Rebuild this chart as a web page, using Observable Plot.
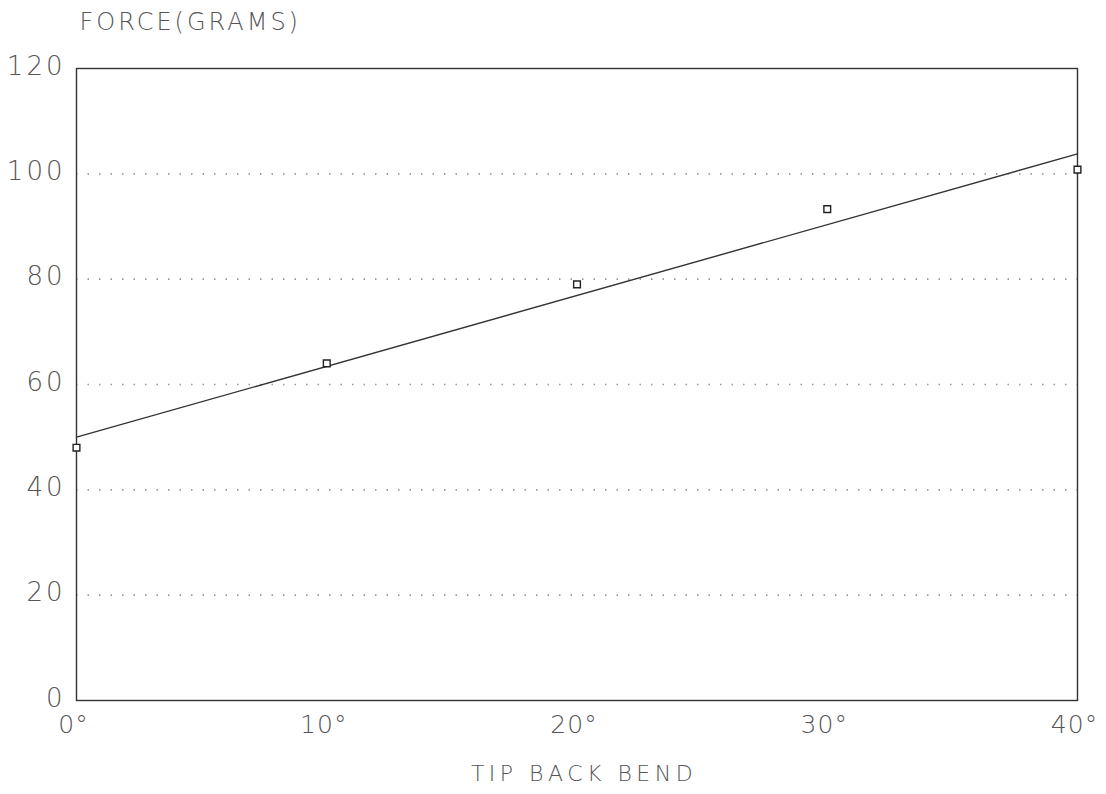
<!DOCTYPE html>
<html>
<head>
<meta charset="utf-8">
<script src="https://cdn.jsdelivr.net/npm/d3@7"></script>
<script src="https://cdn.jsdelivr.net/npm/@observablehq/plot@0.6"></script>
<style>
  html, body { margin: 0; padding: 0; background: #fff; }
  #chart svg { display: block; }
</style>
</head>
<body>
<div id="chart"></div>
<script>
// Data
const bendDeg = [0, 10, 20, 30, 40];
const forceGrams = [48, 64, 79, 93.3, 100.8];
const fitX = [0, 40];
const fitY = [50, 103.8];
const gridValues = [20, 40, 60, 80, 100];
const yTicks = [0, 20, 40, 60, 80, 100, 120];
const xTicks = [0, 10, 20, 30, 40];
const yTitle = "FORCE(GRAMS)";
const xTitle = "TIP BACK BEND";

const points = bendDeg.map((x, i) => ({x, y: forceGrams[i]}));
const fit = fitX.map((x, i) => ({x, y: fitY[i]}));

const font = "'DejaVu Sans', sans-serif";
const ink = "#555";

const plot = Plot.plot({
  width: 1106,
  height: 794,
  marginLeft: 76,
  marginRight: 29,
  marginTop: 68,
  marginBottom: 94,
  style: {fontFamily: font, background: "#fff", color: ink},
  x: {domain: [0, 40], label: null, axis: null},
  y: {domain: [0, 120], label: null, axis: null},
  marks: [
    Plot.ruleY(gridValues, {stroke: "#999", strokeDasharray: "1.5,10", strokeWidth: 1.6}),
    Plot.frame({stroke: "#333", strokeWidth: 1.4}),
    Plot.axisX({ticks: xTicks, tickFormat: d => d + "°", tickSize: 0, tickPadding: 15, fontSize: 25, fill: ink, fontWeight: 200, label: null, dx: -3}),
    Plot.axisY({ticks: yTicks, tickSize: 0, tickPadding: 11, fontSize: 26, fill: ink, fontWeight: 200, label: null, dy: -2}),
    Plot.line(fit, {x: "x", y: "y", stroke: "#333", strokeWidth: 1.4}),
    Plot.dot(points, {x: "x", y: "y", symbol: "square", r: 3.8, stroke: "#222", fill: "#fff", strokeWidth: 1.4}),
    Plot.text([yTitle], {frameAnchor: "top-left", dx: 3, dy: -56, text: d => d, fontSize: 24, fill: ink, fontWeight: 200, textAnchor: "start", lineAnchor: "top"}),
    Plot.text([xTitle], {frameAnchor: "bottom", dx: 7, dy: 73, text: d => d, fontSize: 22, fill: ink, fontWeight: 200, lineAnchor: "middle"})
  ]
});
const svg = d3.select(plot);
svg.selectAll("text").each(function() {
  const t = this.textContent;
  const sel = d3.select(this);
  if (t === yTitle) sel.style("letter-spacing", "3px");
  else if (t === xTitle) sel.style("letter-spacing", "4.5px");
  else if (t.endsWith("°")) sel.style("letter-spacing", "1px");
  else if (/^\d+$/.test(t)) sel.style("letter-spacing", "3px");
});
document.getElementById("chart").appendChild(plot);
</script>
</body>
</html>
